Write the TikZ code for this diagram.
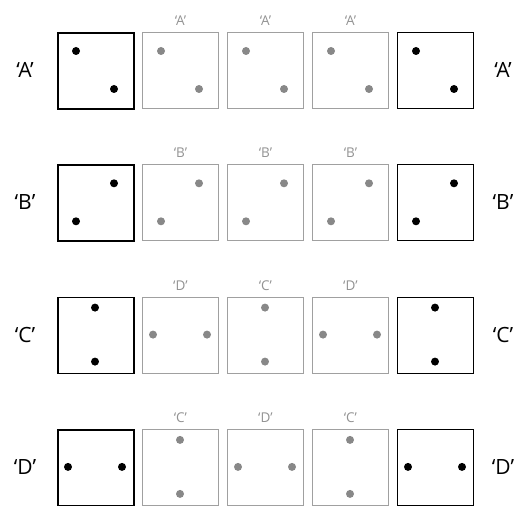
\documentclass[tikz,border=0pt]{standalone}
\usepackage{fontspec}
\setmainfont{Open Sans}
\usetikzlibrary{calc}
\definecolor{dotgray}{HTML}{888888}
\definecolor{textgray}{HTML}{929292}
\definecolor{boxgray}{HTML}{A0A0A0}
\begin{document}
\begin{tikzpicture}[x=1pt,y=-1pt,
  cell/.style={draw,minimum size=76pt,inner sep=0pt,anchor=north west},
  firstcell/.style={cell,line width=1.6pt,draw=black},
  lastcell/.style={cell,line width=1pt,draw=black},
  midcell/.style={cell,line width=0.9pt,draw=boxgray},
  sidelabel/.style={font=\fontsize{21}{21}\selectfont,text=black},
  toplabel/.style={font=\fontsize{13.5}{13.5}\selectfont,text=textgray,anchor=base},
  bdot/.style={fill=black},
  gdot/.style={fill=dotgray}]
\useasboundingbox (0,0) rectangle (518,505);
% patterns: A diag, B antidiag, C vertical, D horizontal
\def\dotsA#1#2{\fill[#2] ($(#1.north west)+(19,19)$) circle (4); \fill[#2] ($(#1.north west)+(57,57)$) circle (4);}
\def\dotsB#1#2{\fill[#2] ($(#1.north west)+(57,19)$) circle (4); \fill[#2] ($(#1.north west)+(19,57)$) circle (4);}
\def\dotsC#1#2{\fill[#2] ($(#1.north west)+(38,11)$) circle (4); \fill[#2] ($(#1.north west)+(38,65)$) circle (4);}
\def\dotsD#1#2{\fill[#2] ($(#1.north west)+(11,38)$) circle (4); \fill[#2] ($(#1.north west)+(65,38)$) circle (4);}
\foreach \r/\lab/\ma/\mb/\mc [count=\ri from 0] in {A/A/A/A/A, B/B/B/B/B, C/C/D/C/D, D/D/C/D/C}{
  \pgfmathsetmacro{\yy}{32+132.3*\ri}
  \node[firstcell] (b\r0) at (57,\yy) {};
  \node[midcell] (b\r1) at (142,\yy) {};
  \node[midcell] (b\r2) at (227,\yy) {};
  \node[midcell] (b\r3) at (312,\yy) {};
  \node[lastcell] (b\r4) at (397,\yy) {};
  \node[sidelabel] (l\r) at (25,\yy+38) {‘\lab’};
  \node[sidelabel] (r\r) at (503,\yy+38) {‘\lab’};
  \node[toplabel] (t\r1) at ($(b\r1.north)+(0,-6.5)$) {‘\ma’};
  \node[toplabel] (t\r2) at ($(b\r2.north)+(0,-6.5)$) {‘\mb’};
  \node[toplabel] (t\r3) at ($(b\r3.north)+(0,-6.5)$) {‘\mc’};
  \csname dots\lab\endcsname{b\r0}{bdot}
  \csname dots\ma\endcsname{b\r1}{gdot}
  \csname dots\mb\endcsname{b\r2}{gdot}
  \csname dots\mc\endcsname{b\r3}{gdot}
  \csname dots\lab\endcsname{b\r4}{bdot}
}
\end{tikzpicture}
\end{document}
